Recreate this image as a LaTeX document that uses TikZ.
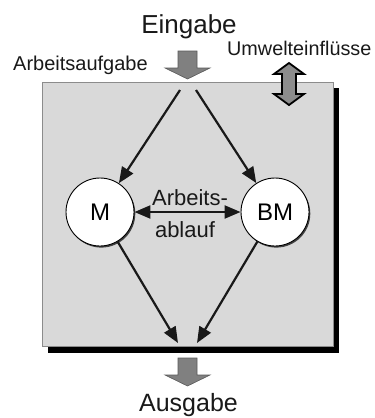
\documentclass[tikz,border=0pt]{standalone}
\usepackage{fontspec}
\setmainfont{Liberation Sans}
\usetikzlibrary{arrows.meta,shadows}
\begin{document}
\begin{tikzpicture}[x=1pt,y=-1pt,
  lbl/.style={inner sep=0pt,text=black!90},
  flowtip/.tip={Triangle[length=16pt,width=13pt]},
  flow/.style={line width=2.2pt,draw=black!90,-flowtip},
  person/.style={circle,draw=black,line width=0.9pt,fill=white,minimum size=68pt,inner sep=0pt,
    font=\fontsize{24}{28}\selectfont,drop shadow={shadow xshift=1.3pt,shadow yshift=-1.6pt,fill=black!75,opacity=1}},
  bigarrow/.style={fill=black!50,draw=black!65,line width=0.6pt}]
\useasboundingbox (0,0) rectangle (375,418);

% work system frame with its shadow
\fill[black] (48,88) rectangle (339,353);
\filldraw[fill=black!15,draw=black!45,line width=0.8pt] (42,82) rectangle (333,346);

% input and output block arrows
\draw[bigarrow] (178,51) -- (197,51) -- (197,68) -- (210,68) -- (187.5,79) -- (165,68) -- (178,68) -- cycle;
\draw[bigarrow] (178,358) -- (197,358) -- (197,375) -- (210,375) -- (187.5,386) -- (165,375) -- (178,375) -- cycle;

% environmental influences
\draw[fill=black!45,draw=black,line width=1.8pt,line join=miter]
  (289,63) -- (304,74) -- (296,74) -- (296,94) -- (304,94) -- (289,105) -- (274,94) -- (282,94)
  -- (282,74) -- (274,74) -- cycle;

% texts
\node[lbl,anchor=base,font=\fontsize{26}{30}\selectfont] (ein) at (189,33) {Eingabe};
\node[lbl,anchor=base west,font=\fontsize{20}{24}\selectfont] (aufg) at (13,70) {Arbeitsaufgabe};
\node[lbl,anchor=base west,font=\fontsize{19.8}{24}\selectfont] (umw) at (227,55) {Umwelteinflüsse};
\node[lbl,anchor=base,font=\fontsize{25}{29}\selectfont] (aus) at (188.5,411) {Ausgabe};

% man and machine
\node[person] (M) at (100,212) {M};
\node[person] (BM) at (275,212) {BM};

\node[lbl,anchor=base,font=\fontsize{22}{26}\selectfont] (ab1) at (190,205) {Arbeits-};
\node[lbl,anchor=base,font=\fontsize{22}{26}\selectfont] (ab2) at (185,237) {ablauf};

% connectors
\coordinate (inL) at (180,90);
\coordinate (inR) at (196,90);
\coordinate (outL) at (178,343);
\coordinate (outR) at (197,343);
\draw[flow] (inL) -- (M);
\draw[flow] (inR) -- (BM);
\draw[flow] (M) -- (outL);
\draw[flow] (BM) -- (outR);
\draw[line width=2.2pt,draw=black!90,flowtip-flowtip] (M.east) -- (BM.west);
\end{tikzpicture}
\end{document}
